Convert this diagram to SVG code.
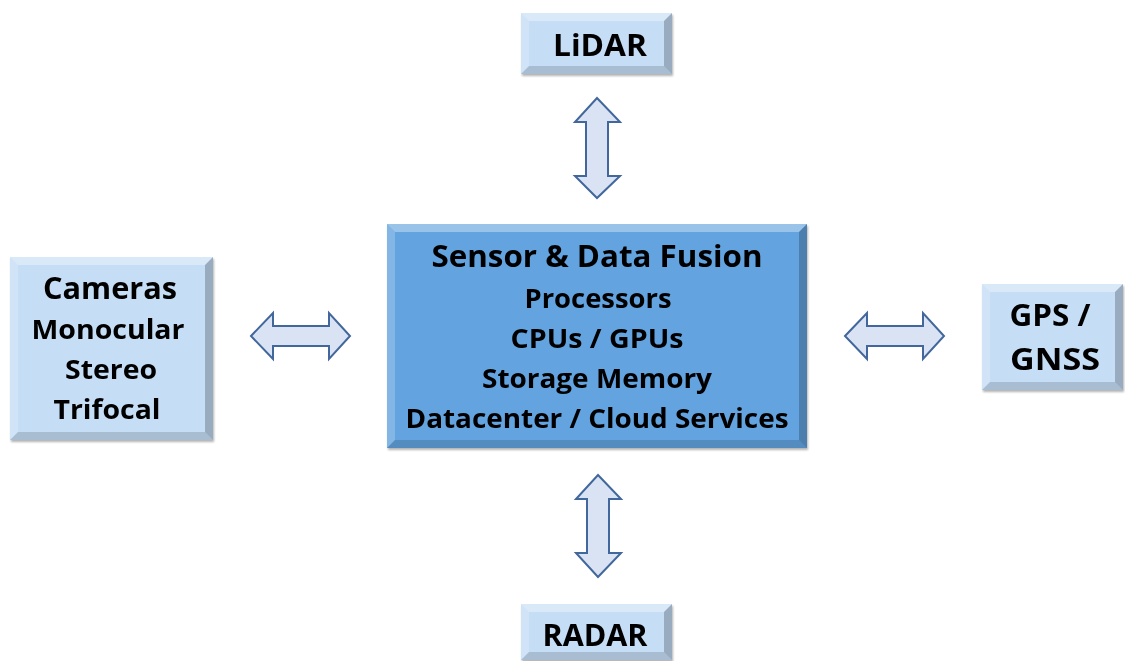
<svg xmlns="http://www.w3.org/2000/svg" width="1125" height="661" viewBox="0 0 1125 661">
<defs>
<style>
.t{font-family:"Open Sans","Liberation Sans",sans-serif;font-weight:700;fill:#000;text-anchor:middle}
.lt{fill:#c5ddf5}
.dk{fill:#64a3df}
.hi{fill:#ffffff;opacity:0.35}
.hi2{fill:#ffffff;opacity:0.2}
.sh{fill:#000000;opacity:0.22}
.sh2{fill:#000000;opacity:0.14}
.arr{fill:#dae3f3;stroke:#41679c;stroke-width:2;stroke-linejoin:miter}
</style>
<filter id="ds" x="-10%" y="-10%" width="130%" height="130%">
<feGaussianBlur in="SourceAlpha" stdDeviation="1.2"/>
<feOffset dx="1" dy="1.5"/>
<feComponentTransfer><feFuncA type="linear" slope="0.3"/></feComponentTransfer>
<feMerge><feMergeNode/><feMergeNode in="SourceGraphic"/></feMerge>
</filter>
</defs>
<rect width="1125" height="661" fill="#fff"/>

<g id="connectors">
<polygon class="arr" points="597,98 620,122 608,122 608,176 620,176 597,198 575,176 586,176 586,122 575,122"/>
<polygon class="arr" points="598,475 621,499 609,499 609,553 621,553 598,577 576,553 587,553 587,499 576,499"/>
<polygon class="arr" points="251,336 273,313 273,326 329,326 329,313 350,336 329,359 329,346 273,346 273,359"/>
<polygon class="arr" points="845,336 867,313 867,326 923,326 923,313 944,336 923,359 923,346 867,346 867,359"/>
</g>

<g id="lidar" filter="url(#ds)">
<rect class="lt" x="521" y="13" width="151" height="61"/>
<polygon class="hi" points="521,13 672,13 664,21 529,21"/>
<polygon class="hi2" points="521,13 529,21 529,66 521,74"/>
<polygon class="sh" points="672,13 672,74 664,66 664,21"/>
<polygon class="sh2" points="521,74 672,74 664,66 529,66"/>
<text class="t" x="600" y="56" font-size="30" textLength="94" lengthAdjust="spacingAndGlyphs">LiDAR</text>
</g>

<g id="fusion" filter="url(#ds)">
<rect class="dk" x="387" y="224" width="420" height="224"/>
<polygon class="hi" points="387,224 807,224 799,232 395,232"/>
<polygon class="hi2" points="387,224 395,232 395,440 387,448"/>
<polygon class="sh" points="807,224 807,448 799,440 799,232"/>
<polygon class="sh2" points="387,448 807,448 799,440 395,440"/>
<text class="t" x="597" y="267" font-size="31" textLength="331" lengthAdjust="spacingAndGlyphs">Sensor &amp; Data Fusion</text>
<text class="t" x="598" y="308" font-size="26" textLength="147" lengthAdjust="spacingAndGlyphs">Processors</text>
<text class="t" x="597" y="348" font-size="26" textLength="173" lengthAdjust="spacingAndGlyphs">CPUs / GPUs</text>
<text class="t" x="597" y="388" font-size="26" textLength="230" lengthAdjust="spacingAndGlyphs">Storage Memory</text>
<text class="t" x="597" y="428" font-size="26" textLength="383" lengthAdjust="spacingAndGlyphs">Datacenter / Cloud Services</text>
</g>

<g id="cameras" filter="url(#ds)">
<rect class="lt" x="10" y="257" width="203" height="183"/>
<polygon class="hi" points="10,257 213,257 205,265 18,265"/>
<polygon class="hi2" points="10,257 18,265 18,432 10,440"/>
<polygon class="sh" points="213,257 213,440 205,432 205,265"/>
<polygon class="sh2" points="10,440 213,440 205,432 18,432"/>
<text class="t" x="110" y="299" font-size="30" textLength="134" lengthAdjust="spacingAndGlyphs">Cameras</text>
<text class="t" x="108" y="339" font-size="26" textLength="153" lengthAdjust="spacingAndGlyphs">Monocular</text>
<text class="t" x="111" y="379" font-size="26" textLength="92" lengthAdjust="spacingAndGlyphs">Stereo</text>
<text class="t" x="107" y="419" font-size="26" textLength="107" lengthAdjust="spacingAndGlyphs">Trifocal</text>
</g>

<g id="gps" filter="url(#ds)">
<rect class="lt" x="982" y="284" width="141" height="106"/>
<polygon class="hi" points="982,284 1123,284 1115,292 990,292"/>
<polygon class="hi2" points="982,284 990,292 990,382 982,390"/>
<polygon class="sh" points="1123,284 1123,390 1115,382 1115,292"/>
<polygon class="sh2" points="982,390 1123,390 1115,382 990,382"/>
<text class="t" x="1050" y="326" font-size="30" textLength="81" lengthAdjust="spacingAndGlyphs">GPS /</text>
<text class="t" x="1055" y="370" font-size="30" textLength="90" lengthAdjust="spacingAndGlyphs">GNSS</text>
</g>

<g id="radar" filter="url(#ds)">
<rect class="lt" x="521" y="604" width="151" height="56"/>
<polygon class="hi" points="521,604 672,604 664,612 529,612"/>
<polygon class="hi2" points="521,604 529,612 529,652 521,660"/>
<polygon class="sh" points="672,604 672,660 664,652 664,612"/>
<polygon class="sh2" points="521,660 672,660 664,652 529,652"/>
<text class="t" x="595" y="646" font-size="30" textLength="105" lengthAdjust="spacingAndGlyphs">RADAR</text>
</g>
</svg>
